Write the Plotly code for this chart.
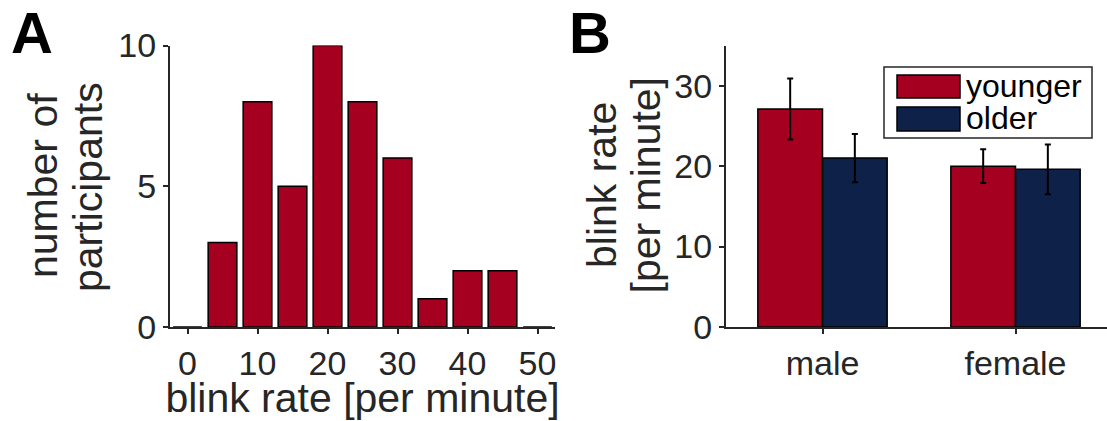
import plotly.graph_objects as go

# ---- Panel A data: histogram of blink rates ----
bin_centers = [0, 5, 10, 15, 20, 25, 30, 35, 40, 45, 50]
counts = [0, 3, 8, 5, 10, 8, 6, 1, 2, 2, 0]

# ---- Panel B data: mean blink rate by sex and age group ----
groups = ["male", "female"]
younger_mean = [27.1, 20.0]
younger_err = [3.8, 2.1]
older_mean = [21.0, 19.6]
older_err = [3.0, 3.1]

RED = "#A60021"
NAVY = "#0E2249"
AX = "#262626"
FONT = "Liberation Sans, Arial, Helvetica, sans-serif"

W, H = 1107, 421

fig = go.Figure()

fig.add_trace(go.Bar(
    x=bin_centers, y=counts, xaxis="x", yaxis="y",
    width=4.1,
    marker=dict(color=RED, line=dict(color="black", width=1.5)),
    showlegend=False, hoverinfo="x+y",
))

fig.add_trace(go.Bar(
    x=groups, y=younger_mean, name="younger", xaxis="x2", yaxis="y2",
    marker=dict(color=RED, line=dict(color="black", width=1.5)),
    error_y=dict(type="data", array=younger_err, visible=True,
                 color="black", thickness=2, width=3),
    showlegend=False,
))
fig.add_trace(go.Bar(
    x=groups, y=older_mean, name="older", xaxis="x2", yaxis="y2",
    marker=dict(color=NAVY, line=dict(color="black", width=1.5)),
    error_y=dict(type="data", array=older_err, visible=True,
                 color="black", thickness=2, width=3),
    showlegend=False,
))

ydom = [(H - 327) / H, (H - 45.5) / H]

tickfont = dict(family=FONT, size=34, color=AX)
titlefont = dict(family=FONT, size=41, color=AX)

common = dict(
    ticks="outside", ticklen=5, tickwidth=1.5, tickcolor=AX,
    showline=True, linecolor=AX, linewidth=2,
    showgrid=False, zeroline=False, tickfont=tickfont, automargin=False,
)

fig.update_layout(
    width=W, height=H,
    margin=dict(l=0, r=0, t=0, b=0),
    paper_bgcolor="white", plot_bgcolor="white",
    barmode="group",
    bargap=0.33, bargroupgap=0.0,
    font=dict(family=FONT, color=AX),
    xaxis=dict(
        domain=[170 / W, 555 / W], range=[-2.5, 52.5],
        tickvals=[0, 10, 20, 30, 40, 50],
        title=dict(text="blink rate [per minute]", font=titlefont, standoff=4),
        anchor="y", **common,
    ),
    yaxis=dict(
        domain=ydom, range=[0, 10],
        tickvals=[0, 5, 10],
        anchor="x", **common,
    ),
    xaxis2=dict(
        domain=[726 / W, 1.0], range=[-0.5, 1.474],
        anchor="y2", **common,
    ),
    yaxis2=dict(
        domain=ydom, range=[0, 35],
        tickvals=[0, 10, 20, 30],
        anchor="x2", **common,
    ),
)


def px(xp):
    return xp / W


def py(yp):
    return 1 - yp / H


# Two-line rotated y-axis titles (tight MATLAB-like line spacing)
ytitles = [
    ("number of", 43, 186),
    ("participants", 88, 187),
    ("blink rate", 602, 185),
    ("[per minute]", 645, 185.5),
]
for txt, cx, cy in ytitles:
    fig.add_annotation(text=txt, x=px(cx), y=py(cy), xref="paper", yref="paper",
                       xanchor="center", yanchor="middle", textangle=-90,
                       showarrow=False, font=titlefont)

# Panel letters
fig.add_annotation(text="<b>A</b>", x=px(9), y=py(-2), xref="paper", yref="paper",
                   xanchor="left", yanchor="top", showarrow=False,
                   font=dict(family=FONT, size=58, color="black"))
fig.add_annotation(text="<b>B</b>", x=px(567), y=py(-2), xref="paper", yref="paper",
                   xanchor="left", yanchor="top", showarrow=False,
                   font=dict(family=FONT, size=58, color="black"))

# Legend (box + swatches + labels) for panel B
fig.add_shape(type="rect", xref="paper", yref="paper",
              x0=px(884), x1=px(1092), y0=py(138), y1=py(67),
              line=dict(color=AX, width=1.5), fillcolor="white", layer="above")
legend_items = [("younger", RED, 75, 98), ("older", NAVY, 107, 131)]
for label, col, top, bot in legend_items:
    fig.add_shape(type="rect", xref="paper", yref="paper",
                  x0=px(897), x1=px(960), y0=py(bot), y1=py(top),
                  line=dict(color="black", width=1.5), fillcolor=col, layer="above")
    fig.add_annotation(text=label, x=px(964), y=py((top + bot) / 2 - 1),
                       xref="paper", yref="paper", xanchor="left", yanchor="middle",
                       showarrow=False, font=dict(family=FONT, size=32, color="black"))

fig.write_html(
    "out.html",
    config={"displayModeBar": False},
    post_script="document.body.style.margin='0';document.body.style.overflow='hidden';",
)
